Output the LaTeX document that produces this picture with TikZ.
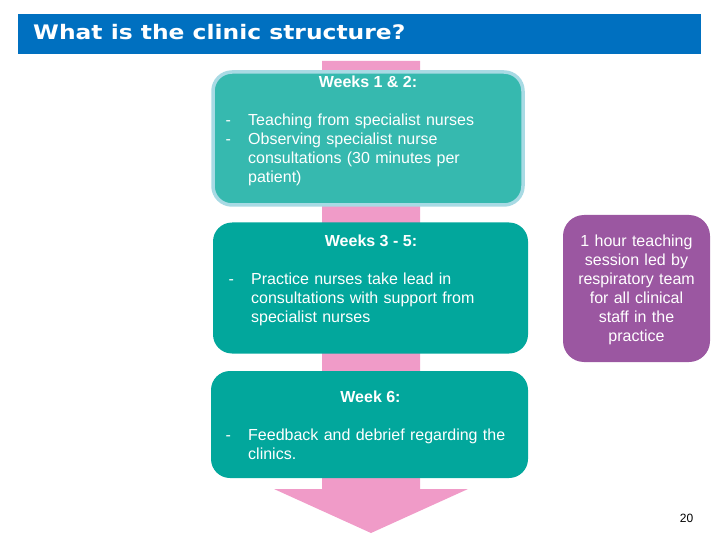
\documentclass[tikz,border=0pt]{standalone}
\usepackage{fontspec}
\setmainfont{Liberation Sans}
\newfontfamily\titlefont[FakeStretch=1.17]{DejaVu Sans}
\usetikzlibrary{positioning}

\definecolor{hdrblue}{HTML}{0070C0}
\definecolor{lightteal}{HTML}{36B9AF}
\definecolor{deepteal}{HTML}{02A79C}
\definecolor{rimblue}{HTML}{A8DAE4}
\definecolor{plum}{HTML}{9B57A1}
\definecolor{flowpink}{HTML}{F09BC8}

\tikzset{
    stagebox/.style={rounded corners=19pt, inner sep=0pt},
    headtext/.style={font=\fontsize{16}{19}\selectfont\bfseries, text=white, anchor=base, inner sep=0pt},
    dashtext/.style={font=\fontsize{16}{19}\selectfont, text=white, anchor=base west, inner sep=0pt},
    bodytext/.style={font=\fontsize{16}{19}\selectfont, text=white, anchor=base west, inner sep=0pt,
        text width=270pt, align=left},
}

\begin{document}
\begin{tikzpicture}[x=1pt, y=-1pt]
    \useasboundingbox (0,0) rectangle (720,540);

    % title bar
    \node[fill=hdrblue, minimum width=683pt, minimum height=40pt, anchor=north west, inner sep=0pt] (header) at (18,14) {};
    \node[anchor=base west, inner sep=0pt, text=white, font=\titlefont\bfseries\fontsize{20}{24}\selectfont] (title) at (33,40) {What is the clinic structure?};

    % pink flow arrow behind the stages
    \fill[flowpink] (322,61) -- (420,61) -- (420,489) -- (468,489) -- (371,533) -- (274,489) -- (322,489) -- cycle;

    % stages
    \node[stagebox, draw=rimblue, line width=3.5pt, fill=lightteal, minimum width=310pt, minimum height=133pt] (wkone) at (368,138.5) {};
    \node[stagebox, fill=deepteal, minimum width=315pt, minimum height=131pt] (wkthree) at (370.5,288) {};
    \node[stagebox, fill=deepteal, minimum width=317pt, minimum height=107pt] (wksix) at (369.5,424.5) {};
    \node[stagebox, rounded corners=21pt, fill=plum, minimum width=147pt, minimum height=147pt] (session) at (636.5,288.5) {};

    % stage texts
    \node[headtext] (wkonehead) at (368,88) {Weeks 1 \& 2:};
    \node[dashtext] (wkonedash) at (225.5,126) {-};
    \node[dashtext] (wkonedashb) at (225.5,145) {-};
    \node[bodytext] (wkonebody) at (248,126) {Teaching from specialist nurses\\Observing specialist nurse\\consultations (30 minutes per\\patient)};

    \node[headtext] (wkthreehead) at (371,247) {Weeks 3 - 5:};
    \node[dashtext] (wkthreedash) at (228.5,284) {-};
    \node[bodytext] (wkthreebody) at (251,284) {Practice nurses take lead in\\consultations with support from\\specialist nurses};

    \node[headtext] (wksixhead) at (370.5,402) {Week 6:};
    \node[dashtext] (wksixdash) at (225.5,440) {-};
    \node[bodytext] (wksixbody) at (248,440) {Feedback and debrief regarding the\\clinics.};

    \node[font=\fontsize{16}{19}\selectfont, text=white, anchor=base, inner sep=0pt, text width=150pt, align=center] (sessiontext) at (636.5,247)
        {1 hour teaching\\session led by\\respiratory team\\for all clinical\\staff in the\\practice};

    % page number
    \node[font=\fontsize{12}{14}\selectfont, anchor=base, inner sep=0pt] (pagenum) at (686.5,522) {20};
\end{tikzpicture}
\end{document}
